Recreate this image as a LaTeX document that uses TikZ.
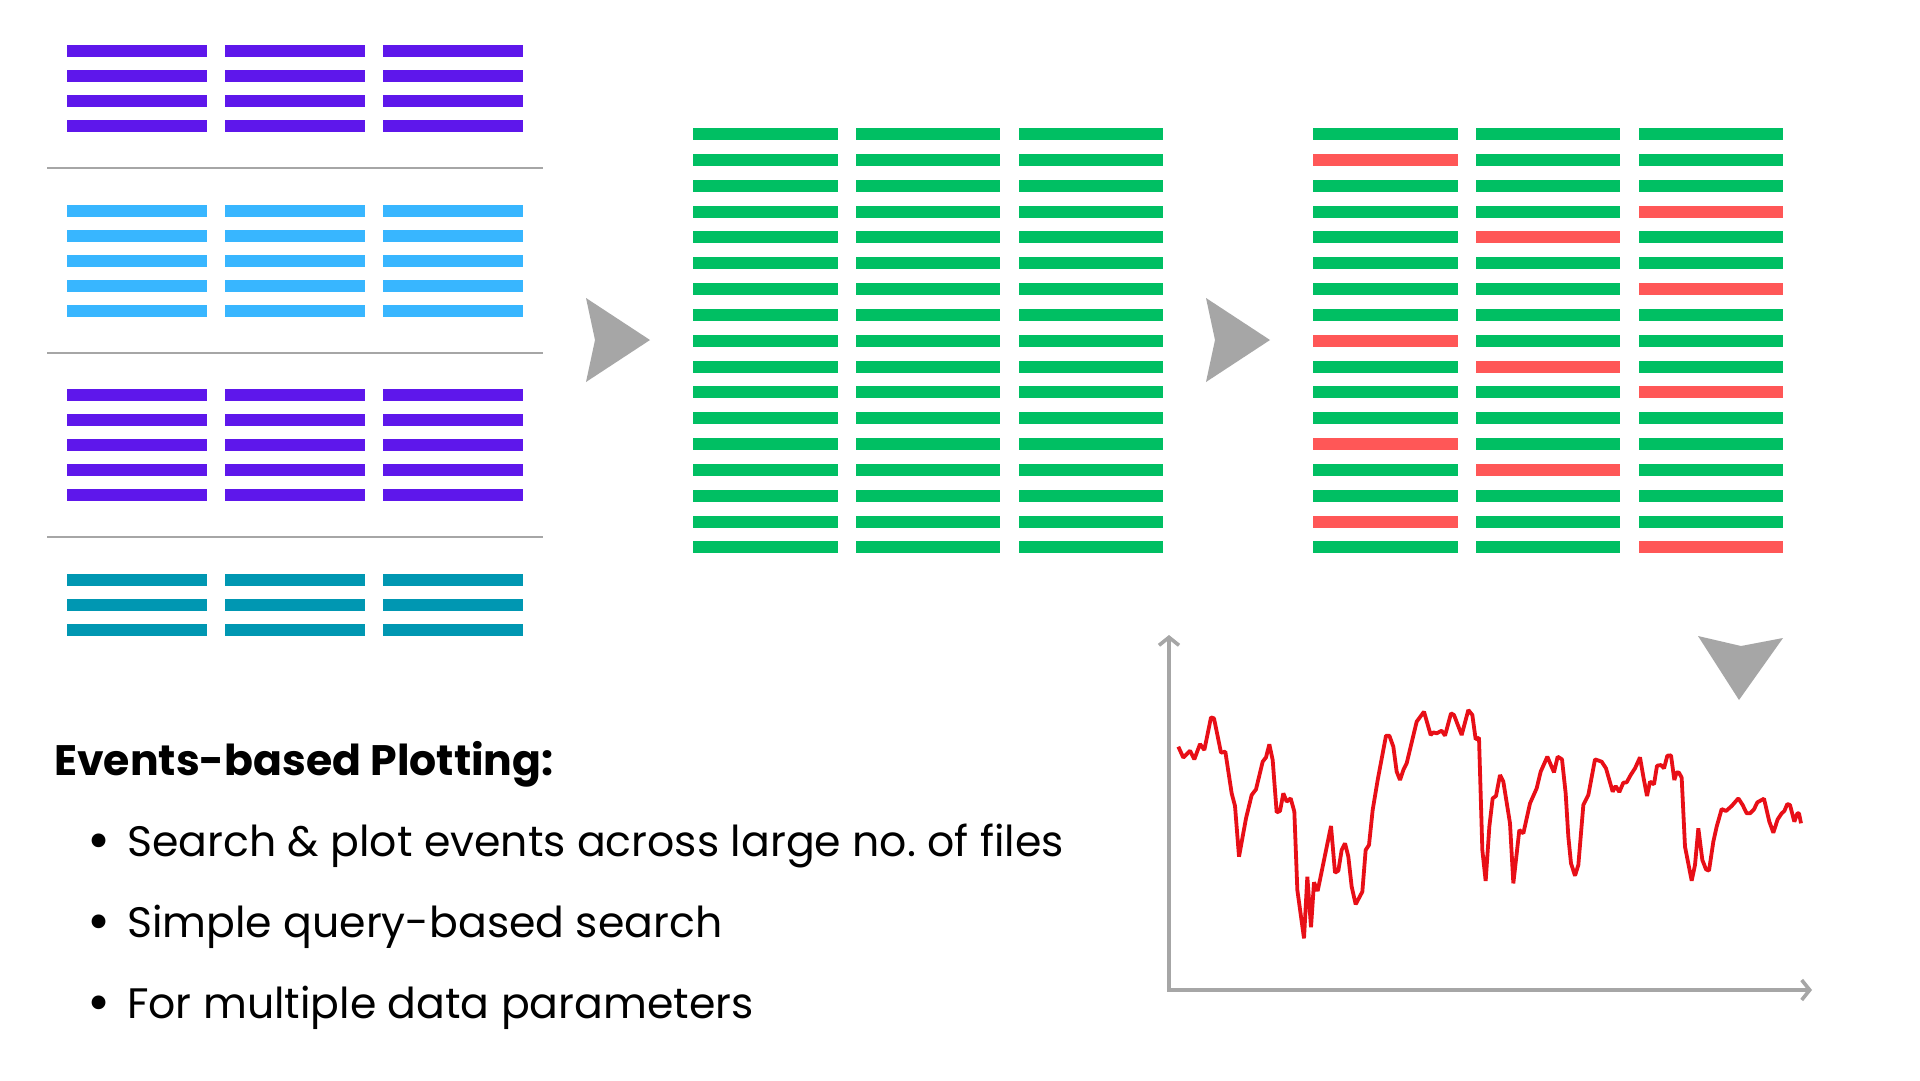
\documentclass[tikz,border=0pt]{standalone}
\usepackage{fontspec}
\setmainfont{Poppins}
\usetikzlibrary{arrows.meta}
\frenchspacing
\definecolor{cpurple}{HTML}{5E17EB}
\definecolor{cblue}{HTML}{38B6FF}
\definecolor{cteal}{HTML}{0097B2}
\definecolor{cgreen}{HTML}{00BF63}
\definecolor{cred}{HTML}{FF5757}
\definecolor{cgray}{HTML}{A6A6A6}
\definecolor{cline}{HTML}{E80F17}
\tikzset{
  divider/.style={draw=cgray,line width=2pt},
  bigarrow/.style={fill=cgray,draw=none},
  axisline/.style={draw=cgray,line width=3.6pt,{Straight Barb[length=8pt,width=20pt]}-{Straight Barb[length=8pt,width=20pt]}},
  curve/.style={draw=cline,line width=3.8pt,line join=bevel},
  bodytext/.style={anchor=base west,inner sep=0pt,font=\fontsize{42.6}{50}\selectfont,text=black},
  headtext/.style={anchor=base west,inner sep=0pt,font=\fontsize{42.6}{50}\selectfont\bfseries,text=black},
  bullettext/.style={anchor=base west,inner sep=0pt,font=\fontsize{56}{60}\selectfont,text=black},
}
\newcommand{\smallgrid}[3]{% top y, rows, colour
  \foreach \cx in {67,225,383}{
    \foreach \rw in {1,...,#2}{
      \fill[#3] (\cx,{#1+(\rw-1)*25.05}) rectangle ++(140,12);
    }
  }
}
\newcommand{\largegrid}[1]{% left x
  \foreach \cn in {0,1,2}{
    \foreach \rw in {0,...,16}{
      \fill[cgreen] ({#1+\cn*162.8},{128+\rw*25.84}) rectangle ++(144.6,12);
    }
  }
}
\begin{document}
\begin{tikzpicture}[x=1pt,y=-1pt]
\useasboundingbox (0,0) rectangle (1920,1080);
\fill[white] (0,0) rectangle (1920,1080);
% left groups
\smallgrid{45}{4}{cpurple}
\smallgrid{205}{5}{cblue}
\smallgrid{389}{5}{cpurple}
\smallgrid{574}{3}{cteal}
\coordinate (d1a) at (47,168.3); \coordinate (d1b) at (543,168.3);
\coordinate (d2a) at (47,352.7); \coordinate (d2b) at (543,352.7);
\coordinate (d3a) at (47,537);   \coordinate (d3b) at (543,537);
\draw[divider] (d1a) -- (d1b);
\draw[divider] (d2a) -- (d2b);
\draw[divider] (d3a) -- (d3b);
% big grids
\largegrid{693}
\largegrid{1312.9}
\foreach \cn/\rw in {0/1,0/8,0/12,0/15,1/4,1/9,1/13,2/3,2/6,2/10,2/16}{
  \fill[cred] ({1312.9+\cn*162.8},{128+\rw*25.84}) rectangle ++(144.6,12);
}
% block arrows
\fill[bigarrow] (586,298) -- (650,340) -- (586,382) -- (595,340) -- cycle;
\fill[bigarrow] (1206,298) -- (1270,340) -- (1206,382) -- (1215,340) -- cycle;
\fill[bigarrow] (1698,636) -- (1741,646) -- (1783,638) -- (1739,700) -- cycle;
% axes
\coordinate (axtop) at (1169,635);
\coordinate (axorigin) at (1169,990);
\coordinate (axright) at (1812,990);
\draw[axisline] (axtop) -- (axorigin) -- (axright);
% data curve
\begin{scope}[shift={(1150,680)},x=0.33333pt,y=-0.33333pt]
\draw[curve] (85,200) -- (100,233) -- (120,212) -- (133,238) -- (150,192) -- (163,210) -- (183,112) -- (192,115) -- (213,218) -- (226,215) -- (245,340) -- (255,378) -- (267,530) -- (288,415) -- (305,345) -- (318,328) -- (338,245) -- (348,232) -- (358,193) -- (368,240) -- (380,397) -- (390,393) -- (400,340) -- (410,365) -- (422,355) -- (433,395) -- (442,630) -- (462,775) -- (472,590) -- (483,742) -- (492,607) -- (503,633) -- (543,438) -- (555,578) -- (565,572) -- (575,510) -- (585,490) -- (595,530) -- (605,620) -- (617,673) -- (637,635) -- (647,510) -- (657,495) -- (668,390) -- (683,300) -- (708,167) -- (718,167) -- (730,200) -- (740,275) -- (750,300) -- (760,270) -- (770,250) -- (800,125) -- (822,95) -- (842,165) -- (850,157) -- (860,160) -- (875,152) -- (885,167) -- (903,100) -- (912,105) -- (935,165) -- (955,90) -- (967,105) -- (977,178) -- (987,173) -- (997,510) -- (1007,603) -- (1018,440) -- (1028,355) -- (1038,348) -- (1050,285) -- (1060,305) -- (1080,430) -- (1090,610) -- (1108,450) -- (1120,460) -- (1140,370) -- (1160,325) -- (1172,275) -- (1192,230) -- (1212,277) -- (1223,230) -- (1236,238) -- (1247,340) -- (1255,470) -- (1263,550) -- (1275,587) -- (1285,555) -- (1300,375) -- (1315,345) -- (1335,238) -- (1355,245) -- (1368,265) -- (1388,335) -- (1397,318) -- (1408,336) -- (1420,308) -- (1430,307) -- (1442,285) -- (1455,265) -- (1470,232) -- (1480,290) -- (1491,348) -- (1500,305) -- (1512,313) -- (1521,257) -- (1533,255) -- (1542,265) -- (1552,227) -- (1563,226) -- (1573,300) -- (1580,277) -- (1587,278) -- (1595,293) -- (1605,500) -- (1625,602) -- (1635,555) -- (1645,445) -- (1657,540) -- (1668,568) -- (1677,572) -- (1690,485) -- (1700,440) -- (1715,387) -- (1728,393) -- (1745,378) -- (1765,355) -- (1778,375) -- (1790,400) -- (1800,400) -- (1812,388) -- (1822,367) -- (1842,356) -- (1858,425) -- (1870,458) -- (1883,418) -- (1895,400) -- (1903,393) -- (1912,372) -- (1920,375) -- (1933,425) -- (1942,400) -- (1947,400) -- (1953,430);
\end{scope}
% text
\node[headtext] (title) at (54,775) {Events-based Plotting:};
\node[bullettext] (b1) at (87,859) {•};
\node[bodytext] (t1) at (127,856) {Search \& plot events across large no. of files};
\node[bullettext] (b2) at (87,940.5) {•};
\node[bodytext] (t2) at (127,937.5) {Simple query-based search};
\node[bullettext] (b3) at (87,1021.5) {•};
\node[bodytext] (t3) at (127,1018.5) {For multiple data parameters};
\end{tikzpicture}
\end{document}
